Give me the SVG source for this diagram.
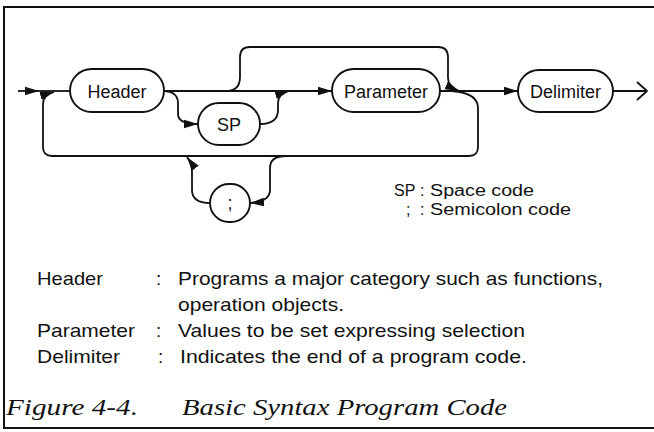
<svg xmlns="http://www.w3.org/2000/svg" width="654" height="432" viewBox="0 0 654 432">
<style>
.box{fill:#fff;stroke:#111;stroke-width:1.9}
.con{fill:none;stroke:#111;stroke-width:1.8;stroke-linejoin:round}
.lbl{font-family:"Liberation Sans",Arial,sans-serif;font-size:18px;fill:#111;text-anchor:middle}
.txt{font-family:"Liberation Sans",Arial,sans-serif;font-size:19px;fill:#111}
.leg{font-family:"Liberation Sans",Arial,sans-serif;font-size:16px;fill:#111}
.cap{font-family:"Liberation Serif","Times New Roman",serif;font-style:italic;font-size:23px;fill:#111}
</style>
<defs>
<marker id="arr" markerUnits="userSpaceOnUse" markerWidth="14" markerHeight="10" viewBox="0 0 14 10" refX="14" refY="5" orient="auto">
<path d="M0,0.8 L14,5 L0,9.2 z" fill="#111"/>
</marker>
</defs>
<path d="M654,7 H4 V428 H654" fill="none" stroke="#111" stroke-width="2"/>
<g id="connectors">
<path class="con" d="M18,91 L39,91" marker-end="url(#arr)"/>
<path class="con" d="M39,91 L70,91"/>
<path class="con" d="M164,91 L332,91" marker-end="url(#arr)"/>
<path class="con" d="M226,91 C236,91 240,86 240,77 L240,57 Q240,47 250,47 L438,47 Q448,47 448,57 L448,78 C448,84 452,88 459,91" marker-end="url(#arr)"/>
<path class="con" d="M164,91 C172,91 178,95 178,103 L178,114 C178,121 184,124 198,124" marker-end="url(#arr)"/>
<path class="con" d="M260,124 C272,124 278,120 278,110 L278,103 C278,97 282,93 289,91" marker-end="url(#arr)"/>
<path class="con" d="M440,91 L518,91" marker-end="url(#arr)"/>
<path class="con" d="M613,91 L647,91 M637,82 L647,91 L637,100"/>
<path class="con" d="M452,91 C464,92 478,96 478,108 L478,147 Q478,156 469,156 L52,156 Q43,156 43,147 L43,104 C43,97 47,94 54,92" marker-end="url(#arr)"/>
<path class="con" d="M286,156 C275,156 270,160 270,168 L270,190 C270,198 264,202 250,203" marker-end="url(#arr)"/>
<path class="con" d="M210,203 C198,203 192,199 192,190 L192,172 C192,165 190,161 187,157" marker-end="url(#arr)"/>
</g>
<g id="node-header">
<rect class="box" x="70" y="69" width="94" height="43" rx="21.5"/>
<text class="lbl" x="117" y="97.5">Header</text>
</g>
<g id="node-sp">
<rect class="box" x="198" y="103" width="62" height="42" rx="21"/>
<text class="lbl" x="229" y="130.5">SP</text>
</g>
<g id="node-parameter">
<rect class="box" x="332" y="69" width="108" height="43" rx="21.5"/>
<text class="lbl" x="386" y="97.5">Parameter</text>
</g>
<g id="node-delimiter">
<rect class="box" x="518" y="70" width="95" height="42" rx="21"/>
<text class="lbl" x="565.5" y="97.5">Delimiter</text>
</g>
<g id="node-semicolon">
<rect class="box" x="210" y="184" width="40" height="38" rx="19"/>
<text class="lbl" x="230" y="209">;</text>
</g>
<g id="legend-codes">
<text class="leg" x="394" y="196">SP</text>
<text class="leg" x="420" y="196">:</text>
<text class="leg" x="430" y="196" textLength="104" lengthAdjust="spacingAndGlyphs">Space code</text>
<text class="leg" x="406" y="215">;</text>
<text class="leg" x="420" y="215">:</text>
<text class="leg" x="430" y="215" textLength="141" lengthAdjust="spacingAndGlyphs">Semicolon code</text>
</g>
<g id="legend-terms">
<text class="txt" x="37" y="285" textLength="66" lengthAdjust="spacingAndGlyphs">Header</text>
<text class="txt" x="156" y="285">:</text>
<text class="txt" x="178" y="285" textLength="425" lengthAdjust="spacingAndGlyphs">Programs a major category such as functions,</text>
<text class="txt" x="178" y="311" textLength="166" lengthAdjust="spacingAndGlyphs">operation objects.</text>
<text class="txt" x="37" y="337" textLength="98" lengthAdjust="spacingAndGlyphs">Parameter</text>
<text class="txt" x="156" y="337">:</text>
<text class="txt" x="178" y="337" textLength="347" lengthAdjust="spacingAndGlyphs">Values to be set expressing selection</text>
<text class="txt" x="37" y="363" textLength="83" lengthAdjust="spacingAndGlyphs">Delimiter</text>
<text class="txt" x="158" y="363">:</text>
<text class="txt" x="180" y="363" textLength="347" lengthAdjust="spacingAndGlyphs">Indicates the end of a program code.</text>
</g>
<g id="caption">
<text class="cap" x="6" y="415" textLength="132" lengthAdjust="spacingAndGlyphs">Figure 4-4.</text>
<text class="cap" x="182" y="415" textLength="325" lengthAdjust="spacingAndGlyphs">Basic Syntax Program Code</text>
</g>
</svg>
